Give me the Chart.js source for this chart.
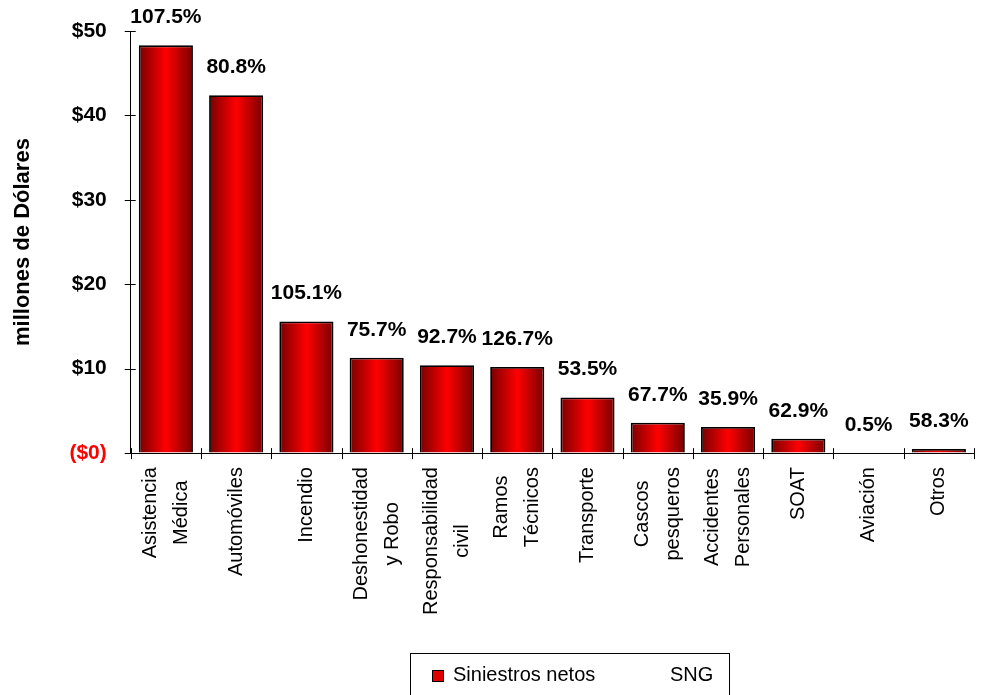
<!DOCTYPE html>
<html>
<head>
<meta charset="utf-8">
<script src="https://cdn.jsdelivr.net/npm/chart.js@4/dist/chart.umd.min.js"></script>
<style>
body { margin: 0; background: #fff; }
#wrap { position: relative; width: 990px; height: 695px; }
#legend {
    position: absolute; left: 410px; top: 653px; width: 318px; height: 50px;
    border: 1px solid #000; font-family: "Liberation Sans", Arial, sans-serif; font-size: 20px;
}
#legend .box { position: absolute; left: 21px; top: 16px; width: 10px; height: 10px; background: #e00000; border: 1px solid #000; }
#legend .t1 { position: absolute; left: 42px; top: 9px; }
#legend .t2 { position: absolute; left: 259px; top: 9px; }
</style>
</head>
<body>
<div id="wrap">
    <canvas id="chart"></canvas>
    <div id="legend"><span class="box"></span><span class="t1">Siniestros netos</span><span class="t2">SNG</span></div>
</div>
<script>
const categories = [
    ['Asistencia', 'Médica'], ['Automóviles'], ['Incendio'], ['Deshonestidad', 'y Robo'],
    ['Responsabilidad', 'civil'], ['Ramos', 'Técnicos'], ['Transporte'], ['Cascos', 'pesqueros'],
    ['Accidentes', 'Personales'], ['SOAT'], ['Aviación'], ['Otros']
];
const siniestrosNetos = [48.3, 42.4, 15.6, 11.3, 10.4, 10.2, 6.6, 3.6, 3.1, 1.7, 0, 0.5];
const sngLabels = ['107.5%', '80.8%', '105.1%', '75.7%', '92.7%', '126.7%', '53.5%', '67.7%', '35.9%', '62.9%', '0.5%', '58.3%'];
const yTicks = [0, 10, 20, 30, 40, 50];

const font = '"Liberation Sans", Arial, sans-serif';
const barPct = 0.77;

function barFill(ctx) {
    const chart = ctx.chart;
    const x = chart.scales.x;
    if (!x || !chart.chartArea) return '#e00000';
    const cx = x.getPixelForValue(ctx.dataIndex);
    const w = (x.width / categories.length) * barPct;
    const g = chart.ctx.createLinearGradient(cx - w / 2, 0, cx + w / 2, 0);
    g.addColorStop(0, '#780000');
    g.addColorStop(0.5, '#ff0000');
    g.addColorStop(1, '#780000');
    return g;
}

// percent labels above the bars
const sngPlugin = {
    id: 'sngLabels',
    afterDatasetsDraw(chart) {
        const c = chart.ctx;
        const meta = chart.getDatasetMeta(0);
        c.save();
        c.font = 'bold 21px ' + font;
        c.fillStyle = '#000';
        c.textAlign = 'center';
        c.textBaseline = 'alphabetic';
        meta.data.forEach(function (bar, i) {
            c.fillText(sngLabels[i], bar.x, bar.y - 22);
        });
        c.restore();
    }
};

// rotated category labels, lines centred in a block that ends at the axis
const xLabels = {
    id: 'xLabels',
    afterDraw(chart) {
        const c = chart.ctx;
        const xs = chart.scales.x;
        const top = chart.chartArea.bottom + 14;
        const lh = 31;
        c.save();
        c.font = '20px ' + font;
        c.fillStyle = '#000';
        c.textAlign = 'center';
        c.textBaseline = 'middle';
        categories.forEach(function (lines, i) {
            const cx = xs.getPixelForValue(i);
            let w = 0;
            lines.forEach(function (s) { w = Math.max(w, c.measureText(s).width); });
            lines.forEach(function (s, j) {
                c.save();
                c.translate(cx + (j - (lines.length - 1) / 2) * lh, top + w / 2);
                c.rotate(-Math.PI / 2);
                c.fillText(s, 0, 0);
                c.restore();
            });
        });
        c.restore();
    }
};

// tick marks that cross the axis lines
const crossTicks = {
    id: 'crossTicks',
    afterDraw(chart) {
        const c = chart.ctx;
        const xs = chart.scales.x, ys = chart.scales.y;
        const a = chart.chartArea;
        c.save();
        c.strokeStyle = '#000';
        c.lineWidth = 1;
        c.beginPath();
        yTicks.forEach(function (v) {
            const py = Math.round(ys.getPixelForValue(v)) + 0.5;
            c.moveTo(a.left - 6, py);
            c.lineTo(a.left + 5, py);
        });
        for (let i = 0; i <= categories.length; i++) {
            const px = Math.round(xs.getPixelForValue(i - 0.5)) + 0.5;
            c.moveTo(px, a.bottom - 5);
            c.lineTo(px, a.bottom + 6);
        }
        c.stroke();
        c.restore();
    }
};

new Chart(document.getElementById('chart'), {
    type: 'bar',
    data: {
        labels: categories,
        datasets: [{
            label: 'Siniestros netos',
            data: siniestrosNetos,
            backgroundColor: barFill,
            borderColor: '#000',
            borderWidth: 1.8,
            borderSkipped: 'bottom',
            barPercentage: barPct,
            categoryPercentage: 1
        }]
    },
    options: {
        responsive: true,
        maintainAspectRatio: false,
        animation: false,
        layout: { padding: { left: 10, right: 16, top: 31, bottom: 70 } },
        plugins: {
            legend: { display: false },
            tooltip: { enabled: false }
        },
        scales: {
            x: {
                grid: { display: false, drawTicks: false },
                border: { color: '#000', width: 1 },
                ticks: {
                    color: 'rgba(0,0,0,0)',
                    font: { family: font, size: 20, lineHeight: 1.55 },
                    minRotation: 90,
                    maxRotation: 90,
                    autoSkip: false,
                    padding: 12
                }
            },
            y: {
                min: 0,
                max: 50,
                afterBuildTicks: function (axis) {
                    axis.ticks = yTicks.map(function (v) { return { value: v }; });
                },
                grid: { display: true, drawOnChartArea: false, drawTicks: true, tickLength: 20, tickColor: 'rgba(0,0,0,0)' },
                border: { color: '#000', width: 1 },
                ticks: {
                    padding: 4,
                    font: { family: font, size: 21, weight: 'bold' },
                    color: function (ctx) { return ctx.tick.value === 0 ? '#ff0000' : '#000'; },
                    callback: function (v) { return v === 0 ? '($0)' : '$' + v; }
                },
                title: {
                    display: true,
                    text: 'millones de Dólares',
                    color: '#000',
                    font: { family: font, size: 22, weight: 'bold' },
                    padding: { top: 0, bottom: 29 }
                }
            }
        }
    },
    plugins: [sngPlugin, xLabels, crossTicks]
});
</script>
</body>
</html>
